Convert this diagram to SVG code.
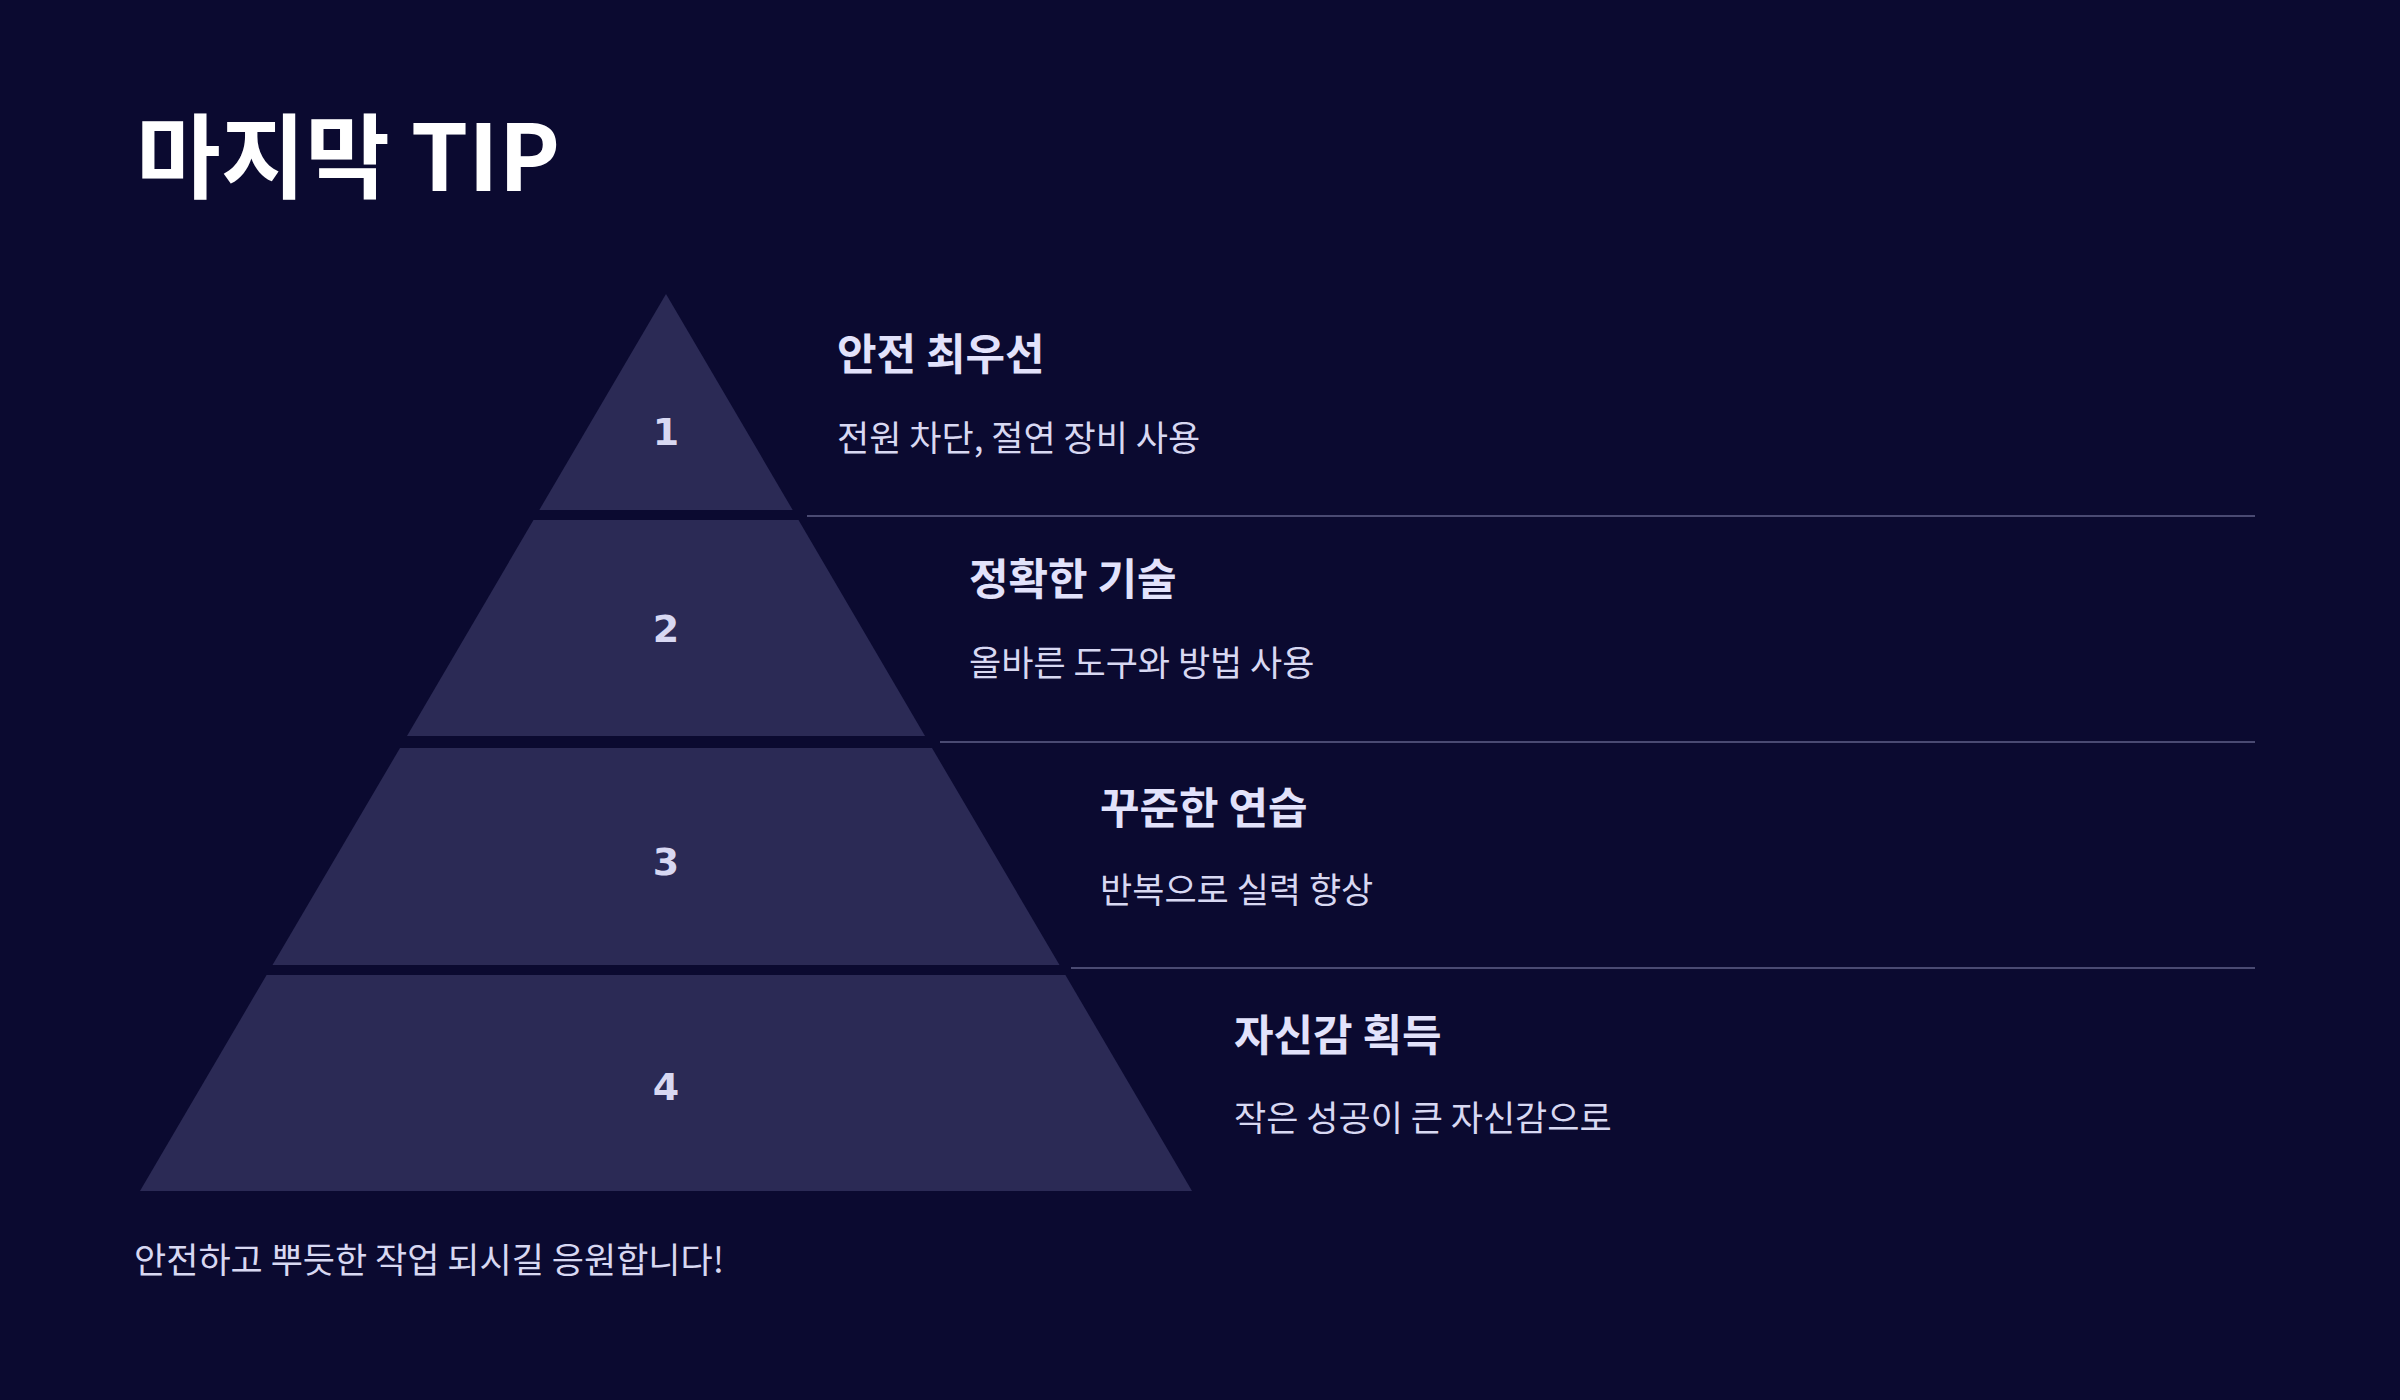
<svg xmlns="http://www.w3.org/2000/svg" width="2400" height="1400" viewBox="0 0 2400 1400">
<style>
.t{font-family:"Noto Sans CJK KR","Noto Sans",sans-serif}
.h{font-size:43px;font-weight:700;fill:#e2e2fb}
.s{font-size:35px;fill:#d8d8f2}
.n{font-family:"DejaVu Sans",sans-serif;font-size:38px;font-weight:700;fill:#d8d8f2;text-anchor:middle}
.tier{fill:#2b2a55}
.ln{stroke:#4a4a72;stroke-width:2}
</style>
<rect width="2400" height="1400" fill="#0b0a30"/>
<text class="t" x="136" y="191" font-size="92" font-weight="700" fill="#ffffff">마지막 TIP</text>
<g id="tier1"><polygon class="tier" points="666,294 792.7,510 539.3,510"/><text class="n" x="666" y="445">1</text></g>
<g id="tier2"><polygon class="tier" points="533.5,520 798.5,520 925,736 407,736"/><text class="n" x="666" y="642">2</text></g>
<g id="tier3"><polygon class="tier" points="400,748 932,748 1059.5,965 272.5,965"/><text class="n" x="666" y="875">3</text></g>
<g id="tier4"><polygon class="tier" points="266.6,975 1065.4,975 1192,1191 140,1191"/><text class="n" x="666" y="1100">4</text></g>
<g id="connectors">
<line class="ln" x1="807" y1="516" x2="2255" y2="516"/>
<line class="ln" x1="940" y1="742" x2="2255" y2="742"/>
<line class="ln" x1="1071" y1="968" x2="2255" y2="968"/>
</g>
<g id="label1"><text class="t h" x="837" y="370">안전 최우선</text><text class="t s" x="837" y="451">전원 차단, 절연 장비 사용</text></g>
<g id="label2"><text class="t h" x="969" y="595">정확한 기술</text><text class="t s" x="969" y="676">올바른 도구와 방법 사용</text></g>
<g id="label3"><text class="t h" x="1100" y="824">꾸준한 연습</text><text class="t s" x="1100" y="903">반복으로 실력 향상</text></g>
<g id="label4"><text class="t h" x="1234" y="1051">자신감 획득</text><text class="t s" x="1234" y="1131">작은 성공이 큰 자신감으로</text></g>
<text class="t s" x="134" y="1273">안전하고 뿌듯한 작업 되시길 응원합니다!</text>
</svg>
